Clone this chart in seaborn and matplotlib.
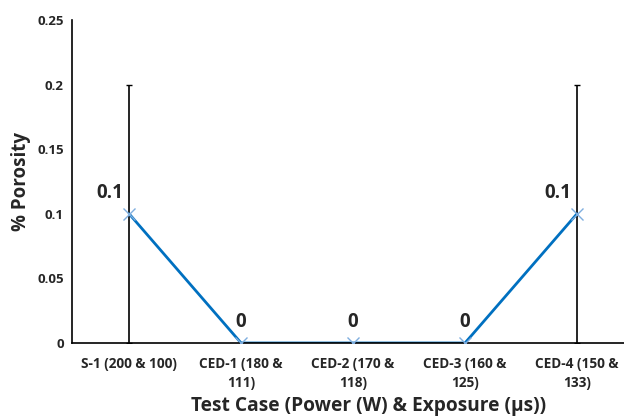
import numpy as np
import pandas as pd
import matplotlib
matplotlib.use("Agg")
import matplotlib.pyplot as plt
import seaborn as sns

# data
cases = ["S-1 (200 & 100)", "CED-1 (180 &\n111)", "CED-2 (170 &\n118)",
         "CED-3 (160 &\n125)", "CED-4 (150 &\n133)"]
porosity = [0.1, 0.0, 0.0, 0.0, 0.1]
porosity_err = [0.1, 0.0, 0.0, 0.0, 0.1]
point_labels = ["0.1", "0", "0", "0", "0.1"]

sns.set_style("white")
plt.rcParams["font.family"] = ["Open Sans", "DejaVu Sans"]
plt.rcParams["font.weight"] = "bold"

df = pd.DataFrame({"case": cases, "porosity": porosity, "err": porosity_err})
df["pos"] = np.arange(len(df))

fig = plt.figure(figsize=(6.24, 4.17), dpi=100)
ax = fig.add_axes([0.1154, 0.1775, 0.8846, 0.7745])

# error bars (only where non-zero)
has_err = df[df["err"] > 0]
ax.errorbar(has_err["pos"], has_err["porosity"], yerr=has_err["err"], fmt="none",
            ecolor="black", elinewidth=1.2, capsize=2.5, capthick=1.0, zorder=1)

sns.lineplot(data=df, x="pos", y="porosity", ax=ax, color="#0070C0", linewidth=2.0,
             zorder=2)
ax.plot(df["pos"], df["porosity"], linestyle="none", marker="x", markersize=9,
        markeredgewidth=1.0, color="#7FAEDF", zorder=3)

# data labels
for x, y, lab, e in zip(df["pos"], df["porosity"], point_labels, df["err"]):
    dx = -14 if e > 0 else 0
    ax.annotate(lab, (x, y), xytext=(dx, 8), textcoords="offset points",
                ha="center", va="bottom", fontsize=13.5, fontweight="bold")

ax.set_xlim(-0.51, 4.42)
ax.set_ylim(0, 0.25)
ax.set_yticks([0, 0.05, 0.1, 0.15, 0.2, 0.25])
ax.set_yticklabels(["0", "0.05", "0.1", "0.15", "0.2", "0.25"])
ax.set_xticks(df["pos"])
ax.set_xticklabels(cases, fontsize=9.8, fontweight="bold", linespacing=1.45)
for t in ax.get_yticklabels():
    t.set_fontsize(9.5)
    t.set_fontweight("bold")
ax.tick_params(axis="x", length=0, pad=10)
ax.tick_params(axis="y", length=0, pad=6)

sns.despine(ax=ax, top=True, right=True)
for s in ["left", "bottom"]:
    ax.spines[s].set_color("black")
    ax.spines[s].set_linewidth(1.2)

ax.set_xlabel("Test Case (Power (W) & Exposure (µs))", fontsize=13.8, fontweight="bold",
              va="center")
ax.xaxis.set_label_coords(0.538, -0.196)
ax.set_ylabel("% Porosity", fontsize=13.5, fontweight="bold", labelpad=4)

fig.savefig("out.png", dpi=100)
